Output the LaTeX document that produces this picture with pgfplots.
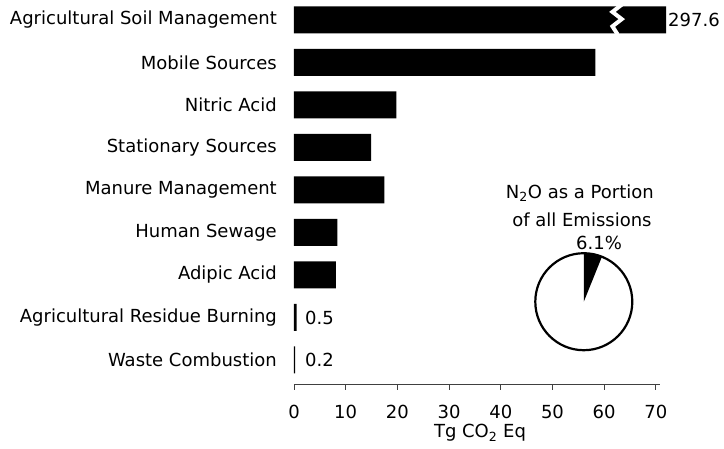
\documentclass[border=0pt]{standalone}
\usepackage{fontspec}
\setmainfont{DejaVu Sans}
\usepackage{pgfplots}
\usepackage{pgfplotstable}
\pgfplotsset{compat=1.18}

\pgfplotstableread{
idx drawn actual
0 72.0 297.6
1 58.3 58.3
2 19.8 19.8
3 14.9 14.9
4 17.5 17.5
5 8.4 8.4
6 8.1 8.1
7 0.5 0.5
8 0.2 0.2
}\bars

\pgfplotstableread{
idx pos text
0 72.35 297.6
7 2.13 0.5
8 2.13 0.2
}\vlabels

\begin{document}
\begin{tikzpicture}[font=\fontsize{18}{21.6}\selectfont]
\useasboundingbox (0,0) rectangle (724pt,449pt);
\begin{axis}[
  at={(294pt,65pt)}, anchor=south west,
  scale only axis, width=366pt, height=384pt,
  xmin=0, xmax=70.8, ymin=-0.47, ymax=8.565, y dir=reverse,
  clip=false,
  axis x line*=bottom, axis y line*=left,
  y axis line style={draw=none},
  x axis line style={draw=black!75, line width=0.9pt},
  xtick={0,10,...,70}, ytick={0,...,8},
  yticklabels={Agricultural Soil Management, Mobile Sources, Nitric Acid, Stationary Sources, Manure Management, Human Sewage, Adipic Acid, Agricultural Residue Burning, Waste Combustion},
  tick align=outside, major tick length=6pt,
  xtick style={draw=black!75, line width=0.9pt},
  ytick style={draw=none},
  /pgf/number format/assume math mode=true,
  xticklabel style={anchor=north, inner sep=0pt, yshift=-15pt},
  yticklabel style={anchor=east, inner sep=0pt, xshift=-11pt},
  tick label style={font=\fontsize{18}{21.6}\selectfont},
  xlabel={Tg CO\textsubscript{2} Eq},
  xlabel style={at={(axis description cs:0.5,0)}, anchor=center, yshift=-49pt, xshift=3pt, font=\fontsize{18}{21.6}\selectfont},
]
\addplot[xbar, fill=black, draw=none, bar width=27pt] table[x=drawn, y=idx]{\bars};
\addplot[xbar, draw=none, fill=none, bar width=0pt, nodes near coords, point meta=explicit symbolic,
  every node near coord/.append style={inner sep=0pt, anchor=west, font=\fontsize{18}{21.6}\selectfont}]
  table[x=pos, y=idx, meta=text]{\vlabels};
% axis break on the first bar
\draw[white, line width=4pt, line join=miter] (axis cs:63.6,-0.38) -- (axis cs:61.6,-0.19) -- (axis cs:63.4,-0.02) -- (axis cs:61.6,0.15) -- (axis cs:62.6,0.34);
% pie
\fill[white] (axis cs:56.06,6.629) circle[radius=48.5pt];
\fill[black] (axis cs:56.06,6.629) -- ++(90:48.5pt) arc[start angle=90, end angle={90-3.6*6.1}, radius=48.5pt] -- cycle;
\draw[line width=2.2pt] (axis cs:56.06,6.629) circle[radius=48.5pt];
\node at (axis cs:55.3,4.071) {N\textsubscript{2}O as a Portion};
\node at (axis cs:55.7,4.706) {of all Emissions};
\node at (axis cs:59.0,5.248) {6.1\%};
\end{axis}
\end{tikzpicture}
\end{document}
